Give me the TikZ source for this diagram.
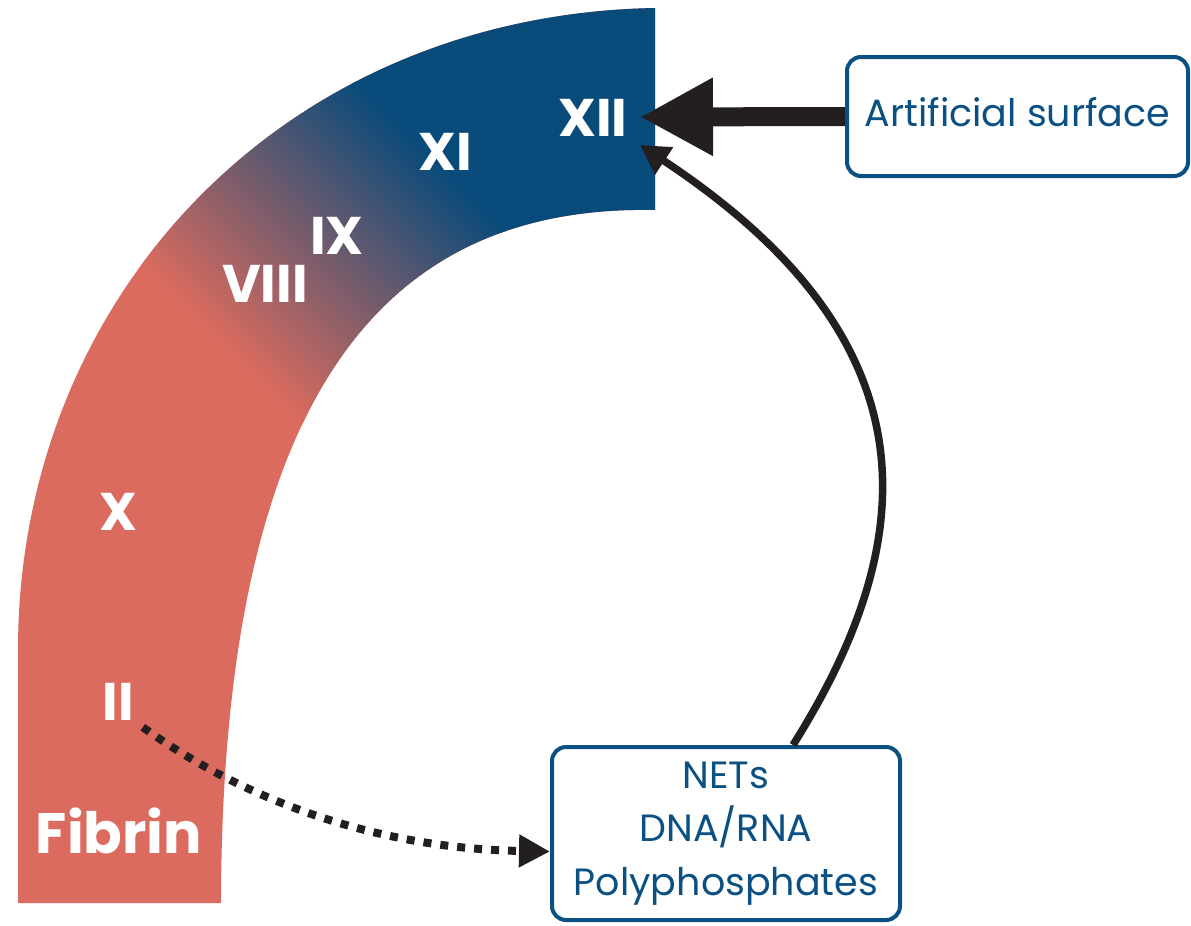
\documentclass[tikz,border=0pt]{standalone}
\usepackage{fontspec}
\setmainfont{Poppins}
\usetikzlibrary{arrows.meta}
\definecolor{fred}{RGB}{220,107,95}
\definecolor{fblue}{RGB}{8,75,122}
\definecolor{boxblue}{RGB}{11,80,130}
\definecolor{ink}{RGB}{35,31,32}
\tikzset{
  factorlabel/.style={text=white, font=\bfseries\fontsize{53}{53}\selectfont, inner sep=0pt, anchor=base},
  infobox/.style={draw=boxblue, line width=4pt, rounded corners=14pt, text=boxblue,
    font=\fontsize{38}{53.5}\selectfont, align=center, inner sep=0pt},
  boldarrow/.style={draw=ink, line width=19pt, -{Triangle[length=73pt,width=73pt]}},
  curvearrow/.style={draw=ink, line width=7.5pt, -{Triangle[length=29pt,width=31pt]}},
  dotarrow/.style={draw=ink, line width=8pt, dash pattern=on 8pt off 9pt, -{Triangle[length=31pt,width=31pt]}}
}
\begin{document}
\begin{tikzpicture}[x=1pt,y=-1pt]
\useasboundingbox (0,0) rectangle (1191,926);

% coagulation band, red at the bottom fading into blue at the top
\begin{scope}
  \clip (18,903) -- (18,650) .. controls (18,300) and (280,15) .. (655,8)
        -- (655,210) .. controls (400,205) and (222,370) .. (221,903) -- cycle;
  \fill[fred] (0,0) rectangle (700,926);
  \begin{scope}[transform canvas={rotate=45}]
    \fill[fblue] (190,-1500) rectangle (1500,1500);
    \shade[left color=fred, right color=fblue] (-88,-1500) rectangle (195,1500);
  \end{scope}
\end{scope}

% factor labels
\node[factorlabel] (xii) at (593,136) {XII};
\node[factorlabel] (xi) at (445,170) {XI};
\node[factorlabel] (ix) at (337,254) {IX};
\node[factorlabel] (viii) at (265,302) {VIII};
\node[factorlabel] (x) at (118,530) {X};
\node[factorlabel] (ii) at (118,720) {II};
\node[factorlabel, font=\bfseries\fontsize{57}{57}\selectfont] (fibrin) at (119,853) {Fibrin};

% activator boxes
\node[infobox, minimum width=341pt, minimum height=119pt, text depth=10pt] (as) at (1017.5,116.5) {Artificial surface};
\node[infobox, minimum width=348pt, minimum height=173pt] (nets) at (726,833.5) {NETs\\DNA/RNA\\Polyphosphates};

% arrow targets next to XII
\coordinate (xiitip) at (640,117);
\coordinate (xiitipb) at (640,145);

% connectors
\draw[boldarrow] (as.west) -- (xiitip);
\draw[curvearrow] ([xshift=67pt]nets.north) .. controls (935,520) and (920,330) .. (xiitipb);
\draw[dotarrow] ([xshift=9pt,yshift=-7pt]ii.south east) .. controls (230,790) and (360,848) .. ([yshift=-18pt]nets.west);
\end{tikzpicture}
\end{document}
